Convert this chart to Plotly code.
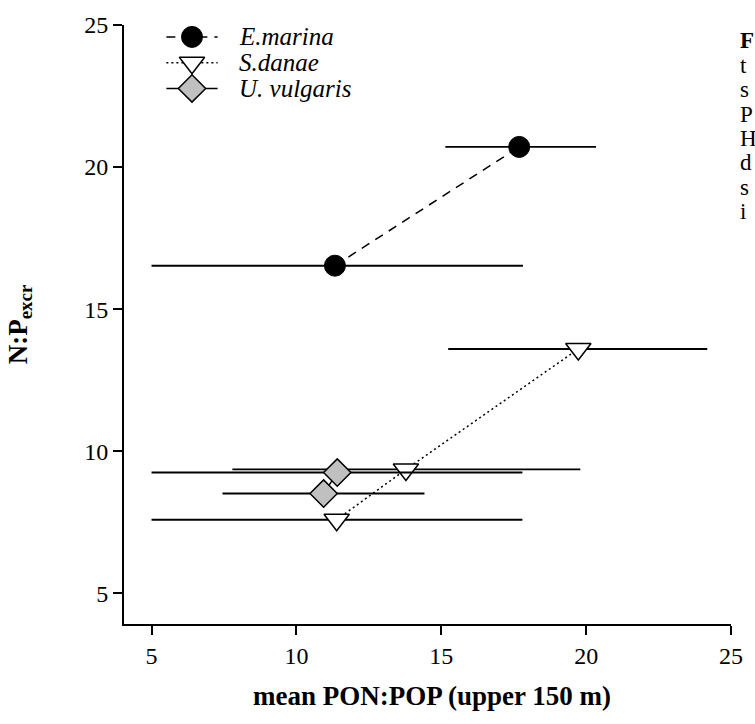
import plotly.graph_objects as go

# Mean PON:POP (upper 150 m) vs. N:P of excretion, per species
species = ["E.marina", "S.danae", "U. vulgaris"]

emarina_x = [11.33, 17.69]
emarina_y = [16.53, 20.71]
emarina_xlo = [6.33, 2.55]
emarina_xhi = [6.49, 2.65]

sdanae_x = [11.39, 13.78, 19.73]
sdanae_y = [7.59, 9.36, 13.60]
sdanae_xlo = [6.39, 5.99, 4.49]
sdanae_xhi = [6.41, 6.02, 4.45]

uvulgaris_x = [10.94, 11.41]
uvulgaris_y = [8.51, 9.25]
uvulgaris_xlo = [3.49, 6.41]
uvulgaris_xhi = [3.48, 6.39]

x_ticks = [5, 10, 15, 20, 25]
y_ticks = [5, 10, 15, 20, 25]

caption_lines = ["<b>F</b>", "t", "s", "P", "H", "d", "s", "i"]

SERIF = "Liberation Serif"
LW = 1.5
BAR_W = 1.9

# plot-area size in pixels; the key is laid out on a pixel-unit overlay axis
PLOT_W, PLOT_H = 616, 604
KEY_SYMBOL_X = 69          # centre of the key symbol
KEY_LINE_HALF = 26         # half length of the key line sample
KEY_TEXT_X = 115           # left edge of the key labels
KEY_ROW_Y = [12, 38, 64]   # row centres, measured down from the top
CAPTION_X = 1.012
CAPTION_TOP = 16
CAPTION_STEP = 24.6

styles = [
    dict(line=dict(color="black", width=LW, dash="9px,7px"),
         marker=dict(symbol="circle", size=21, color="black",
                     line=dict(color="black", width=1))),
    dict(line=dict(color="black", width=LW, dash="2px,3px"),
         marker=dict(symbol="triangle-down", size=22, color="white",
                     line=dict(color="black", width=LW))),
    dict(line=dict(color="black", width=LW),
         marker=dict(symbol="diamond", size=21, color="#c0c0c0",
                     line=dict(color="black", width=LW))),
]


def err(lo, hi):
    return dict(type="data", symmetric=False, array=hi, arrayminus=lo,
                color="black", thickness=BAR_W, width=0)


fig = go.Figure()

series = [
    (emarina_x, emarina_y, emarina_xlo, emarina_xhi),
    (sdanae_x, sdanae_y, sdanae_xlo, sdanae_xhi),
    (uvulgaris_x, uvulgaris_y, uvulgaris_xlo, uvulgaris_xhi),
]
for name, (xs, ys, lo, hi), st in zip(species, series, styles):
    fig.add_trace(go.Scatter(
        x=xs, y=ys, name=name, mode="lines+markers",
        line=st["line"], marker=st["marker"], error_x=err(lo, hi),
        showlegend=False,
    ))

# key: line sample with its marker, then an italic label
for name, row, st in zip(species, KEY_ROW_Y, styles):
    fig.add_trace(go.Scatter(
        x=[KEY_SYMBOL_X - KEY_LINE_HALF, KEY_SYMBOL_X + KEY_LINE_HALF],
        y=[row, row], xaxis="x2", yaxis="y2", mode="lines",
        line=st["line"], showlegend=False, hoverinfo="skip",
    ))
    fig.add_trace(go.Scatter(
        x=[KEY_SYMBOL_X], y=[row], xaxis="x2", yaxis="y2", mode="markers",
        marker=st["marker"], showlegend=False, hoverinfo="skip",
    ))
    fig.add_annotation(
        text=f"<i>{name}</i>", xref="x2", yref="y2", x=KEY_TEXT_X, y=row,
        xanchor="left", yanchor="middle", showarrow=False,
        font=dict(family=SERIF, size=25, color="black"),
    )

# caption text running along the right edge
for i, line in enumerate(caption_lines):
    py = CAPTION_TOP + i * CAPTION_STEP
    fig.add_annotation(
        text=line, xref="paper", yref="y2", x=CAPTION_X, y=py,
        xanchor="left", yanchor="middle", showarrow=False,
        font=dict(family=SERIF, size=23, color="black"),
    )

# x-axis title, set as free text so it can sit slightly right of centre
fig.add_annotation(
    text="<b>mean PON:POP (upper 150 m)</b>", xref="paper", yref="paper",
    x=0.508, y=-0.121, xanchor="center", yanchor="middle", showarrow=False,
    font=dict(family=SERIF, size=27, color="black"),
)

axis_common = dict(
    showgrid=False, zeroline=False, showline=True, linecolor="black",
    linewidth=BAR_W, ticks="outside", ticklen=9, tickwidth=BAR_W,
    tickcolor="black", tickfont=dict(family=SERIF, size=24, color="black"),
    mirror=False,
)

fig.update_layout(
    width=755, height=724,
    margin=dict(l=124, r=15, t=20, b=100),
    paper_bgcolor="white", plot_bgcolor="white",
    font=dict(family=SERIF, color="black"),
    xaxis=dict(range=[4.05, 25], tickvals=x_ticks, **axis_common),
    yaxis=dict(range=[3.92, 25], tickvals=y_ticks,
               title=dict(text="<b>N:P<sub>excr</sub></b>",
                          font=dict(family=SERIF, size=27), standoff=49),
               **axis_common),
    xaxis2=dict(overlaying="x", range=[0, PLOT_W], visible=False,
                fixedrange=True),
    yaxis2=dict(overlaying="y", range=[PLOT_H, 0], visible=False,
                fixedrange=True),
    showlegend=False,
)

fig.write_html("out.html")
